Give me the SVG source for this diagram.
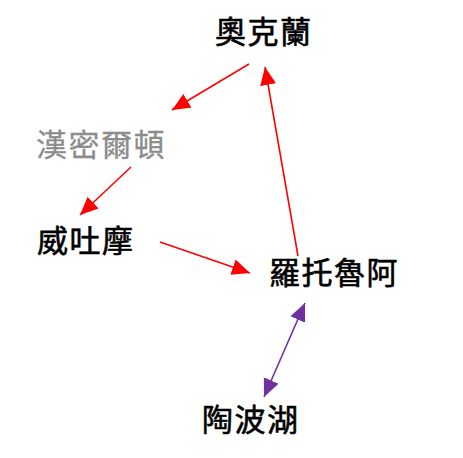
<svg xmlns="http://www.w3.org/2000/svg" width="463" height="458" viewBox="0 0 463 458">
<style>
.lbl{font-family:"Noto Sans CJK TC","Noto Sans CJK SC",sans-serif;font-size:31px;font-weight:400;letter-spacing:1.5px;fill:#000;stroke:#000;stroke-width:0.6px}
.gray{fill:#8c8c8c;stroke:#8c8c8c;stroke-width:0.3px}
.red{stroke:#ff0000;stroke-width:1.6;fill:none}
.pur{stroke:#7030a0;stroke-width:1.6;fill:none}
</style>
<defs>
<marker id="ar" markerUnits="userSpaceOnUse" markerWidth="20" markerHeight="18" refX="18" refY="8" orient="auto"><path d="M0,0 L18,8 L0,16 z" fill="#ff0000"/></marker>
<marker id="ap" markerUnits="userSpaceOnUse" markerWidth="20" markerHeight="18" refX="18" refY="8" orient="auto-start-reverse"><path d="M0,0 L18,8 L0,16 z" fill="#7030a0"/></marker>
</defs>
<rect width="463" height="458" fill="#fff"/>
<g id="connectors">
<line class="red" x1="249" y1="64" x2="172" y2="110" marker-end="url(#ar)"/>
<line class="red" x1="298" y1="256" x2="265" y2="67" marker-end="url(#ar)"/>
<line class="red" x1="131" y1="167" x2="80" y2="215" marker-end="url(#ar)"/>
<line class="red" x1="160" y1="242" x2="250" y2="273" marker-end="url(#ar)"/>
<line class="pur" x1="264" y1="397" x2="305" y2="303" marker-start="url(#ap)" marker-end="url(#ap)"/>
</g>
<g id="auckland"><text class="lbl" x="215" y="43">奧克蘭</text></g>
<g id="hamilton"><text class="lbl gray" x="36" y="156">漢密爾頓</text></g>
<g id="waitomo"><text class="lbl" x="37" y="252">威吐摩</text></g>
<g id="rotorua"><text class="lbl" x="269" y="284">羅托魯阿</text></g>
<g id="taupo"><text class="lbl" x="202" y="431">陶波湖</text></g>
</svg>
